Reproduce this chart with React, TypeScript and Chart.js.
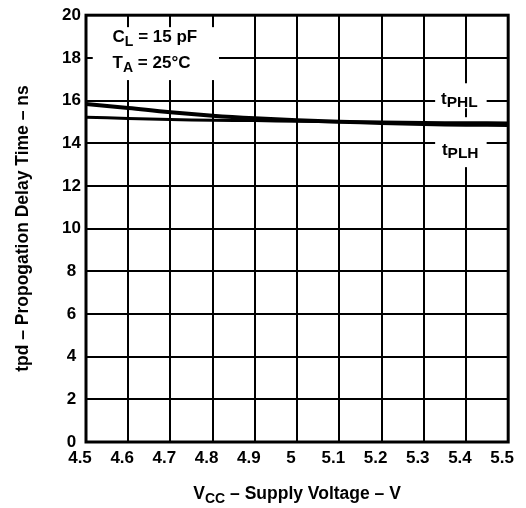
import React, { useEffect, useRef } from 'react';
import { Chart, registerables } from 'chart.js';

Chart.register(...registerables);

// ---- data ----
const voltages = [4.5, 4.6, 4.7, 4.8, 4.9, 5.0, 5.1, 5.2, 5.3, 5.4, 5.5];
const tPHL = [15.84, 15.65, 15.45, 15.29, 15.17, 15.08, 15.01, 14.95, 14.9, 14.87, 14.86];
const tPLH = [15.22, 15.16, 15.11, 15.08, 15.06, 15.03, 15.01, 14.99, 14.97, 14.96, 14.95];
const xTickValues = [4.5, 4.6, 4.7, 4.8, 4.9, 5.0, 5.1, 5.2, 5.3, 5.4, 5.5];
const xTickLabels = ['4.5', '4.6', '4.7', '4.8', '4.9', '5', '5.1', '5.2', '5.3', '5.4', '5.5'];
const yTickValues = [0, 2, 4, 6, 8, 10, 12, 14, 16, 18, 20];
const yTickLabels = ['0', '2', '4', '6', '8', '10', '12', '14', '16', '18', '20'];

const FONT = '"Liberation Sans", Arial, Helvetica, sans-serif';

type Part = { text: string; size: number; dy: number };

function drawRich(ctx: CanvasRenderingContext2D, x: number, y: number, parts: Part[], align: 'left' | 'center') {
  const widths = parts.map((p) => {
    ctx.font = `bold ${p.size}px ${FONT}`;
    return ctx.measureText(p.text).width;
  });
  const total = widths.reduce((a, b) => a + b, 0);
  let cx = align === 'center' ? x - total / 2 : x;
  ctx.textAlign = 'left';
  ctx.textBaseline = 'alphabetic';
  parts.forEach((p, i) => {
    ctx.font = `bold ${p.size}px ${FONT}`;
    ctx.fillText(p.text, cx, y + p.dy);
    cx += widths[i];
  });
}

const decorPlugin = {
  id: 'decor',
  beforeDatasetsDraw(chart: any) {
    const { ctx, scales } = chart;
    const xs = scales.x;
    const ys = scales.y;
    const box = (x0: number, x1: number, y0: number, y1: number) => {
      const px0 = xs.getPixelForValue(x0);
      const px1 = xs.getPixelForValue(x1);
      const py0 = ys.getPixelForValue(y0);
      const py1 = ys.getPixelForValue(y1);
      ctx.fillRect(px0, py1, px1 - px0, py0 - py1);
    };
    ctx.save();
    ctx.fillStyle = '#ffffff';
    box(4.516, 4.815, 16.96, 19.44);
    box(5.327, 5.449, 15.64, 16.81);
    box(5.327, 5.449, 12.88, 15.22);
    ctx.restore();
  },
  afterDatasetsDraw(chart: any) {
    const { ctx, scales, chartArea } = chart;
    const xs = scales.x;
    const ys = scales.y;
    ctx.save();
    // frame
    ctx.strokeStyle = '#000';
    ctx.lineWidth = 3;
    ctx.strokeRect(chartArea.left, chartArea.top, chartArea.right - chartArea.left, chartArea.bottom - chartArea.top);

    ctx.fillStyle = '#000';
    // conditions
    drawRich(ctx, xs.getPixelForValue(4.563), ys.getPixelForValue(18.73), [
      { text: 'C', size: 17, dy: 0 },
      { text: 'L', size: 14, dy: 4 },
      { text: ' = 15 pF', size: 17, dy: 0 },
    ], 'left');
    drawRich(ctx, xs.getPixelForValue(4.563), ys.getPixelForValue(17.52), [
      { text: 'T', size: 17, dy: 0 },
      { text: 'A', size: 14, dy: 4 },
      { text: ' = 25°C', size: 17, dy: 0 },
    ], 'left');
    // curve labels
    drawRich(ctx, xs.getPixelForValue(5.341), ys.getPixelForValue(15.83), [
      { text: 't', size: 17, dy: 0 },
      { text: 'PHL', size: 15.5, dy: 3 },
    ], 'left');
    drawRich(ctx, xs.getPixelForValue(5.343), ys.getPixelForValue(13.44), [
      { text: 't', size: 17, dy: 0 },
      { text: 'PLH', size: 15.5, dy: 3 },
    ], 'left');

    // axis titles
    const cxm = (chartArea.left + chartArea.right) / 2;
    drawRich(ctx, cxm, 499, [
      { text: 'V', size: 17.5, dy: 0 },
      { text: 'CC', size: 14, dy: 4 },
      { text: ' – Supply Voltage – V', size: 17.5, dy: 0 },
    ], 'center');

    const cym = (chartArea.top + chartArea.bottom) / 2;
    ctx.translate(28, cym);
    ctx.rotate(-Math.PI / 2);
    drawRich(ctx, 0, 0, [
      { text: 'tpd – Propogation Delay Time – ns', size: 17.5, dy: 0 },
    ], 'center');
    ctx.restore();
  },
};

export default function App() {
  const ref = useRef<HTMLCanvasElement | null>(null);

  useEffect(() => {
    if (!ref.current) return;
    const chart = new Chart(ref.current, {
      type: 'line',
      data: {
        datasets: [
          {
            label: 'tPHL',
            data: voltages.map((v, i) => ({ x: v, y: tPHL[i] })),
            borderColor: '#000',
            borderWidth: 4,
            pointRadius: 0,
            tension: 0.4,
            fill: false,
          },
          {
            label: 'tPLH',
            data: voltages.map((v, i) => ({ x: v, y: tPLH[i] })),
            borderColor: '#000',
            borderWidth: 3,
            pointRadius: 0,
            tension: 0.4,
            fill: false,
          },
        ],
      },
      options: {
        animation: false,
        responsive: false,
        devicePixelRatio: 1,
        layout: { padding: { top: 15, right: 14, left: 0, bottom: 0 } },
        plugins: {
          legend: { display: false },
          tooltip: { enabled: false },
          title: { display: false },
        },
        scales: {
          x: {
            type: 'linear',
            min: 4.5,
            max: 5.5,
            afterFit: (s: any) => {
              s.height = 66;
            },
            afterBuildTicks: (s: any) => {
              s.ticks = xTickValues.map((v) => ({ value: v }));
            },
            grid: { color: '#000', lineWidth: 2, drawTicks: false },
            border: { display: false },
            ticks: {
              color: '#000',
              padding: 6,
              labelOffset: -6,
              maxRotation: 0,
              autoSkip: false,
              font: { family: FONT, size: 17, weight: 'bold' },
              callback: (_v: any, i: number) => xTickLabels[i],
            },
          },
          y: {
            type: 'linear',
            min: 0,
            max: 20,
            afterFit: (s: any) => {
              s.width = 86;
            },
            afterBuildTicks: (s: any) => {
              s.ticks = yTickValues.map((v) => ({ value: v }));
            },
            grid: { color: '#000', lineWidth: 2, drawTicks: false },
            border: { display: false },
            ticks: {
              color: '#000',
              padding: 5,
              crossAlign: 'center',
              autoSkip: false,
              font: { family: FONT, size: 17, weight: 'bold' },
              callback: (_v: any, i: number) => yTickLabels[i],
            },
          },
        },
      },
      plugins: [decorPlugin],
    } as any);
    return () => chart.destroy();
  }, []);

  return (
    <div style={{ position: 'absolute', left: 0, top: 0, width: 526, height: 508, background: '#fff' }}>
      <canvas ref={ref} width={526} height={508} style={{ display: 'block' }} />
    </div>
  );
}
